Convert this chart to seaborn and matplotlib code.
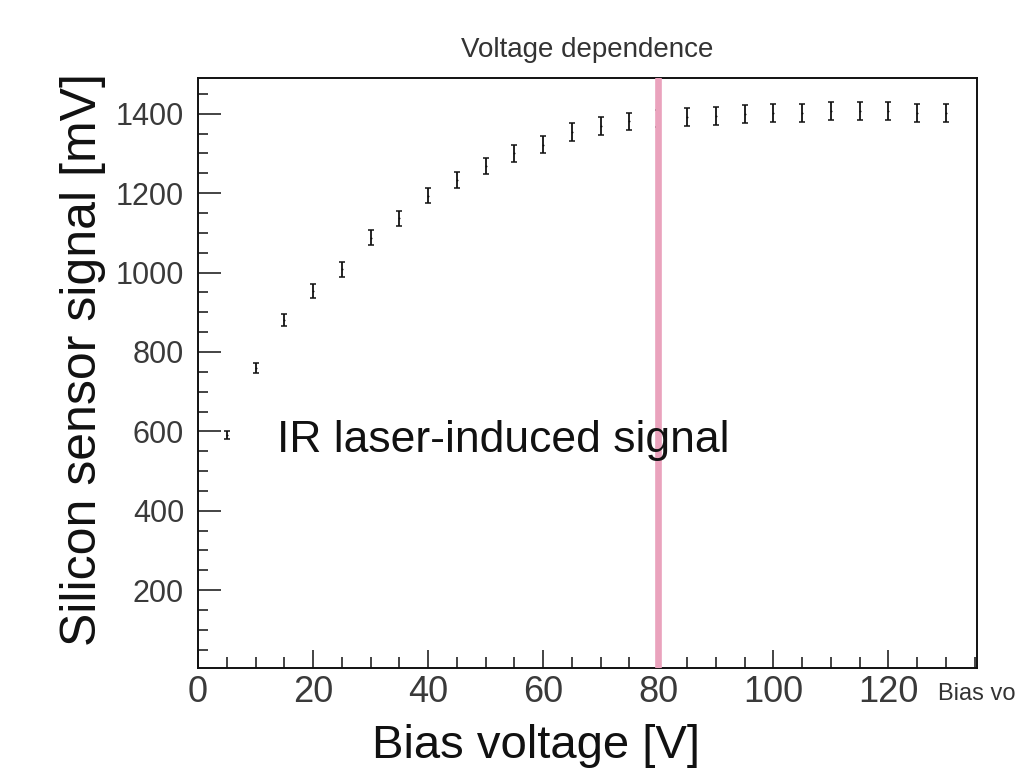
import numpy as np
import pandas as pd
import matplotlib
matplotlib.use("Agg")
import matplotlib.pyplot as plt
from matplotlib.ticker import MultipleLocator
import seaborn as sns

# ---- data ----
voltage = [5, 10, 15, 20, 25, 30, 35, 40, 45, 50, 55, 60, 65,
           70, 75, 80, 85, 90, 95, 100, 105, 110, 115, 120, 125, 130]
signal = [591, 759, 880, 954, 1008, 1088, 1137, 1194, 1234, 1269, 1300, 1322, 1354,
          1369, 1381, 1388, 1392, 1394, 1400, 1402, 1402, 1407, 1407, 1407, 1402, 1401]
signal_err = [10, 12, 15, 18, 18, 18, 19, 20, 20, 20, 21, 21, 22,
              22, 22, 22, 23, 23, 23, 23, 23, 23, 23, 23, 23, 23]
x_ticks = [0, 20, 40, 60, 80, 100, 120]
y_ticks = [200, 400, 600, 800, 1000, 1200, 1400]
marker_voltage = 80

title = "Voltage dependence"
annotation = "IR laser-induced signal"
ylabel = "Silicon sensor signal [mV]"
xlabel = "Bias voltage [V]"
root_xtitle = "Bias vo"

df = pd.DataFrame({"voltage": voltage, "signal": signal, "err": signal_err})

sns.set_theme(style="white")
plt.rcParams["font.family"] = ["Liberation Sans", "DejaVu Sans"]

W, H = 1029, 768
fig = plt.figure(figsize=(W / 100, H / 100), dpi=100)
ax = fig.add_axes([198 / W, 1 - 668 / H, (977 - 198) / W, (668 - 78) / H])

# pink marker line (drawn over the point at 80 V)
ax.axvline(marker_voltage, color="#eaa3bd", lw=4.8, zorder=4)

# data points (no visible marker) with error bars
sns.scatterplot(data=df, x="voltage", y="signal", ax=ax, s=2, color="black",
                linewidth=0, zorder=3, legend=False)
ax.errorbar(df["voltage"], df["signal"], yerr=df["err"], fmt="none",
            ecolor="#111111", elinewidth=1.3, capsize=2.2, capthick=1.1, zorder=3)

ax.set_xlim(0, 135.4)
ax.set_ylim(4, 1490)

ax.set_xticks(x_ticks)
ax.set_yticks(y_ticks)
ax.xaxis.set_minor_locator(MultipleLocator(5))
ax.yaxis.set_minor_locator(MultipleLocator(50))
ax.tick_params(axis="both", which="both", direction="in", colors="#111111",
               bottom=True, left=True, top=False, right=False, width=1.1)
ax.tick_params(axis="y", which="major", length=16.5, pad=10,
               labelsize=22, labelcolor="#3a3a3a")
ax.tick_params(axis="y", which="minor", length=7)
ax.tick_params(axis="x", which="major", length=13, pad=5,
               labelsize=26, labelcolor="#3a3a3a")
ax.tick_params(axis="x", which="minor", length=8)

for sp in ax.spines.values():
    sp.set_color("#111111")
    sp.set_linewidth(1.4)
    sp.set_visible(True)

ax.set_xlabel("")
ax.set_ylabel("")

# annotation text inside the plot
ax.text(277 / W, 1 - 452 / H, annotation, transform=fig.transFigure,
        fontsize=32, color="#111111", ha="left", va="baseline", zorder=5)

# ROOT-style title and axis title (cut off)
fig.text(587 / W, 1 - 57 / H, title, fontsize=20, color="#333333",
         ha="center", va="baseline")
fig.text(938 / W, 1 - 700 / H, root_xtitle, fontsize=17, color="#333333",
         ha="left", va="baseline")

# large slide axis labels
fig.text(536 / W, 1 - 758 / H, xlabel, fontsize=34, color="#111111",
         ha="center", va="baseline")
fig.text(83 / W, 1 - 360 / H, ylabel, fontsize=36, color="#111111",
         ha="center", va="center", rotation=90)

fig.savefig("out.png", dpi=100)
